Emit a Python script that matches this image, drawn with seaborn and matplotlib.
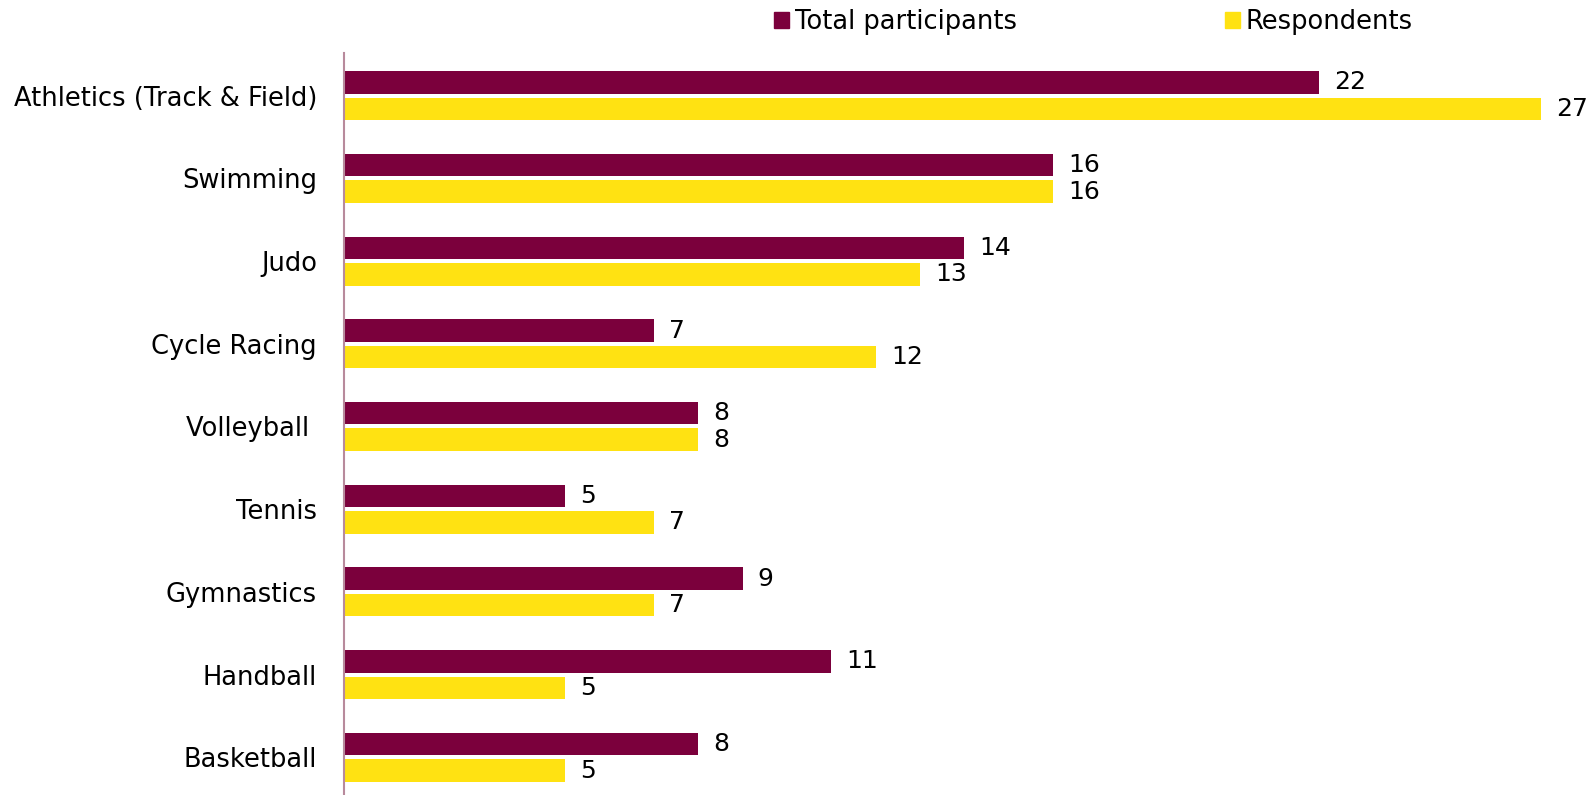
import pandas as pd
import matplotlib.pyplot as plt
import seaborn as sns

sports = ['Athletics (Track & Field)', 'Swimming', 'Judo', 'Cycle Racing',
          'Volleyball ', 'Tennis', 'Gymnastics', 'Handball', 'Basketball']
total_participants = [22, 16, 14, 7, 8, 5, 9, 11, 8]
respondents = [27, 16, 13, 12, 8, 7, 7, 5, 5]
series = ['Total participants', 'Respondents']
colors = ['#7B003C', '#FFE212']

df = pd.DataFrame({
    'Sport': sports * 2,
    'Count': total_participants + respondents,
    'Series': [series[0]] * len(sports) + [series[1]] * len(sports),
})

sns.set_theme(style="white")
plt.rcParams['font.family'] = ['DejaVu Sans']
plt.rcParams['text.color'] = 'black'
plt.rcParams['ytick.color'] = 'black'

fig = plt.figure(figsize=(15.94, 7.95), dpi=100)
ax = fig.add_axes([343.5 / 1594, 0, 1 - 343.5 / 1594, 742 / 795])

sns.barplot(data=df, y='Sport', x='Count', hue='Series', order=sports,
            hue_order=series, palette=colors, saturation=1, linewidth=0,
            orient='h', width=0.64, gap=0.15, ax=ax, legend=False)

for cont in ax.containers:
    ax.bar_label(cont, padding=11, fontsize=18, color='black')

ax.set_xlim(0, 28.2)
ax.set_ylim(8.455, -0.515)
ax.set_xlabel('')
ax.set_ylabel('')
ax.set_xticks([])
ax.tick_params(axis='y', length=0, pad=19, labelsize=18.5, labelcolor='black')
for s in ['top', 'right', 'bottom']:
    ax.spines[s].set_visible(False)
ax.spines['left'].set_color('#B88A9C')
ax.spines['left'].set_linewidth(1.5)

handles = [plt.Rectangle((0, 0), 1, 1, color=c) for c in colors]
fig.legend(handles, series, loc='center left', bbox_to_anchor=(774 / 1594, 1 - 22 / 795),
           ncol=2, frameon=False, fontsize=18.5, handlelength=0.6, handleheight=0.6,
           handletextpad=0.2, columnspacing=8.1, borderaxespad=0, borderpad=0)

fig.savefig('out.png', dpi=100)
